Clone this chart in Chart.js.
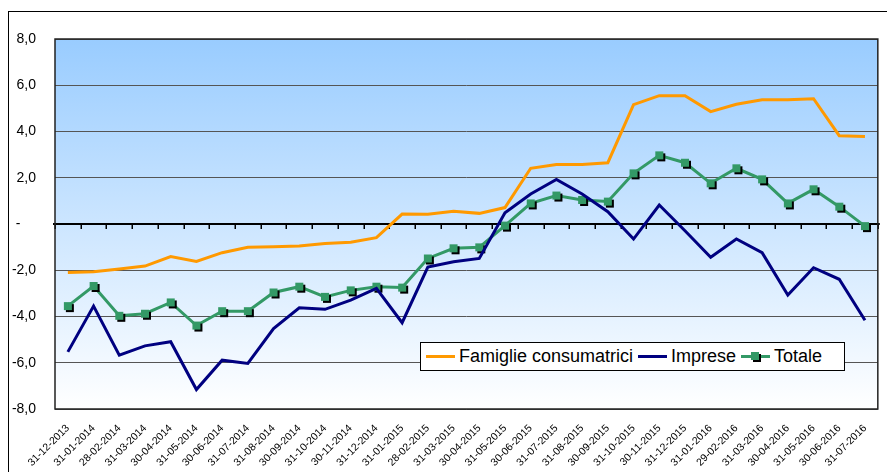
<!DOCTYPE html>
<html><head><meta charset="utf-8">
<script src="https://cdn.jsdelivr.net/npm/chart.js@4/dist/chart.umd.min.js"></script>
<style>
html,body{margin:0;padding:0;background:#fff;}
#wrap{position:relative;width:887px;height:472px;overflow:hidden;}
#legend{position:absolute;left:420px;top:342px;width:423px;height:27px;border:1px solid #000;background:#fff;
 font-family:"Liberation Sans",Arial,sans-serif;font-size:18px;color:#000;display:flex;align-items:center;white-space:nowrap;}
.it{display:flex;align-items:center;}
.sw{position:relative;width:29px;height:3px;margin:0 4px 0 5px;}
.mk{position:absolute;left:10px;top:-3px;width:8px;height:8px;background:#339966;box-shadow:2px 2px 0 #000;}
</style></head>
<body><div id="wrap"><canvas id="c" width="887" height="472"></canvas>
<div id="legend"></div></div>
<script>
const categories = ["31-12-2013","31-01-2014","28-02-2014","31-03-2014","30-04-2014","31-05-2014","30-06-2014","31-07-2014","31-08-2014","30-09-2014","31-10-2014","30-11-2014","31-12-2014","31-01-2015","28-02-2015","31-03-2015","30-04-2015","31-05-2015","30-06-2015","31-07-2015","31-08-2015","30-09-2015","31-10-2015","30-11-2015","31-12-2015","31-01-2016","29-02-2016","31-03-2016","30-04-2016","31-05-2016","30-06-2016","31-07-2016"];
const famiglie = [-2.10,-2.06,-1.95,-1.82,-1.41,-1.62,-1.24,-1.01,-0.98,-0.95,-0.84,-0.79,-0.59,0.43,0.42,0.55,0.46,0.71,2.41,2.57,2.57,2.65,5.16,5.55,5.55,4.86,5.18,5.37,5.37,5.42,3.82,3.78];
const imprese = [-5.53,-3.55,-5.67,-5.27,-5.09,-7.16,-5.89,-6.03,-4.52,-3.62,-3.69,-3.29,-2.78,-4.27,-1.86,-1.63,-1.49,0.49,1.30,1.93,1.30,0.53,-0.65,0.82,-0.29,-1.44,-0.65,-1.24,-3.07,-1.89,-2.39,-4.16];
const totale = [-3.55,-2.68,-3.97,-3.88,-3.39,-4.39,-3.77,-3.77,-2.96,-2.71,-3.15,-2.87,-2.71,-2.75,-1.49,-1.05,-1.01,-0.07,0.89,1.23,1.04,0.97,2.19,2.97,2.65,1.76,2.41,1.93,0.89,1.50,0.75,-0.09];
const seriesNames = ["Famiglie consumatrici","Imprese","Totale"];
const seriesColors = ["#ff9900","#000080","#339966"];
const yTicks = [-8,-6,-4,-2,0,2,4,6,8];

function fmt(v){ if (Math.abs(v)<1e-9) return "-\u2007\u2007"; return v.toFixed(1).replace('.',','); }

const mk = document.createElement('canvas'); mk.width=16; mk.height=16;
(function(){const g=mk.getContext('2d'); g.fillStyle='#000'; g.fillRect(6,6,8,8); g.fillStyle='#339966'; g.fillRect(4,4,8,8);})();

const deco = {
  id:'deco',
  beforeDraw(chart){
    const {ctx, chartArea:a} = chart;
    ctx.save();
    ctx.strokeStyle='#000'; ctx.lineWidth=1;
    ctx.strokeRect(8.5,11.5,900,500);
    const g = ctx.createLinearGradient(0,a.top,0,a.bottom);
    g.addColorStop(0,'#99ccff'); g.addColorStop(1,'#ffffff');
    ctx.fillStyle=g; ctx.fillRect(a.left,a.top,a.right-a.left,a.bottom-a.top);
    ctx.restore();
  },
  beforeDatasetsDraw(chart){
    const {ctx, chartArea:a, scales:{x,y}} = chart;
    ctx.save();
    const y0 = y.getPixelForValue(0);
    ctx.strokeStyle='#000'; ctx.lineWidth=2;
    ctx.beginPath(); ctx.moveTo(a.left-2,y0); ctx.lineTo(a.right+2,y0); ctx.stroke();
    ctx.lineWidth=1.5;
    const half = (x.getPixelForValue(1)-x.getPixelForValue(0))/2;
    for (let i=0;i<=categories.length;i++){
      const px = Math.round(x.getPixelForValue(i)-half)+0.25;
      ctx.beginPath(); ctx.moveTo(px,y0); ctx.lineTo(px,y0+5); ctx.stroke();
    }
    ctx.strokeStyle='#222'; ctx.lineWidth=1.5;
    ctx.strokeRect(a.left,a.top,a.right-a.left,a.bottom-a.top);
    ctx.restore();
  }
};

new Chart(document.getElementById('c'), {
  type:'line',
  data:{labels:categories, datasets:[
    {label:seriesNames[0], data:famiglie, borderColor:seriesColors[0], borderWidth:3, pointRadius:0, tension:0},
    {label:seriesNames[1], data:imprese, borderColor:seriesColors[1], borderWidth:3, pointRadius:0, tension:0},
    {label:seriesNames[2], data:totale, borderColor:seriesColors[2], borderWidth:3, pointStyle:mk, pointRadius:5, tension:0}
  ]},
  options:{
    responsive:false, animation:false,
    layout:{padding:{top:39,right:2,left:0,bottom:0}},
    plugins:{legend:{display:false}, tooltip:{enabled:false}},
    scales:{
      x:{offset:true, grid:{display:false, drawTicks:false}, border:{display:false},
         afterFit(s){s.height=63;},
         ticks:{autoSkip:false, maxRotation:45, minRotation:45, padding:13, color:'#000',
                font:{family:'"Liberation Sans", Arial, sans-serif', size:10.5}}},
      y:{min:-8, max:8, afterFit(s){s.width=55;},
         afterBuildTicks(s){s.ticks = yTicks.map(v=>({value:v}));},
         grid:{drawTicks:false, color:ctx=>ctx.tick && ctx.tick.value===0 ? 'rgba(0,0,0,0)' : '#555', lineWidth:1},
         border:{display:false},
         ticks:{padding:19, color:'#000', callback:v=>fmt(v),
                font:{family:'"Liberation Sans", Arial, sans-serif', size:14}}}
    }
  },
  plugins:[deco]
});

const lg = document.getElementById('legend');
seriesNames.forEach((n,i)=>{
  const it=document.createElement('div'); it.className='it';
  const sw=document.createElement('div'); sw.className='sw'; sw.style.background=seriesColors[i];
  if(i===2){const m=document.createElement('div'); m.className='mk'; sw.appendChild(m);}
  const t=document.createElement('span'); t.textContent=n;
  it.appendChild(sw); it.appendChild(t); lg.appendChild(it);
});
</script></body></html>
